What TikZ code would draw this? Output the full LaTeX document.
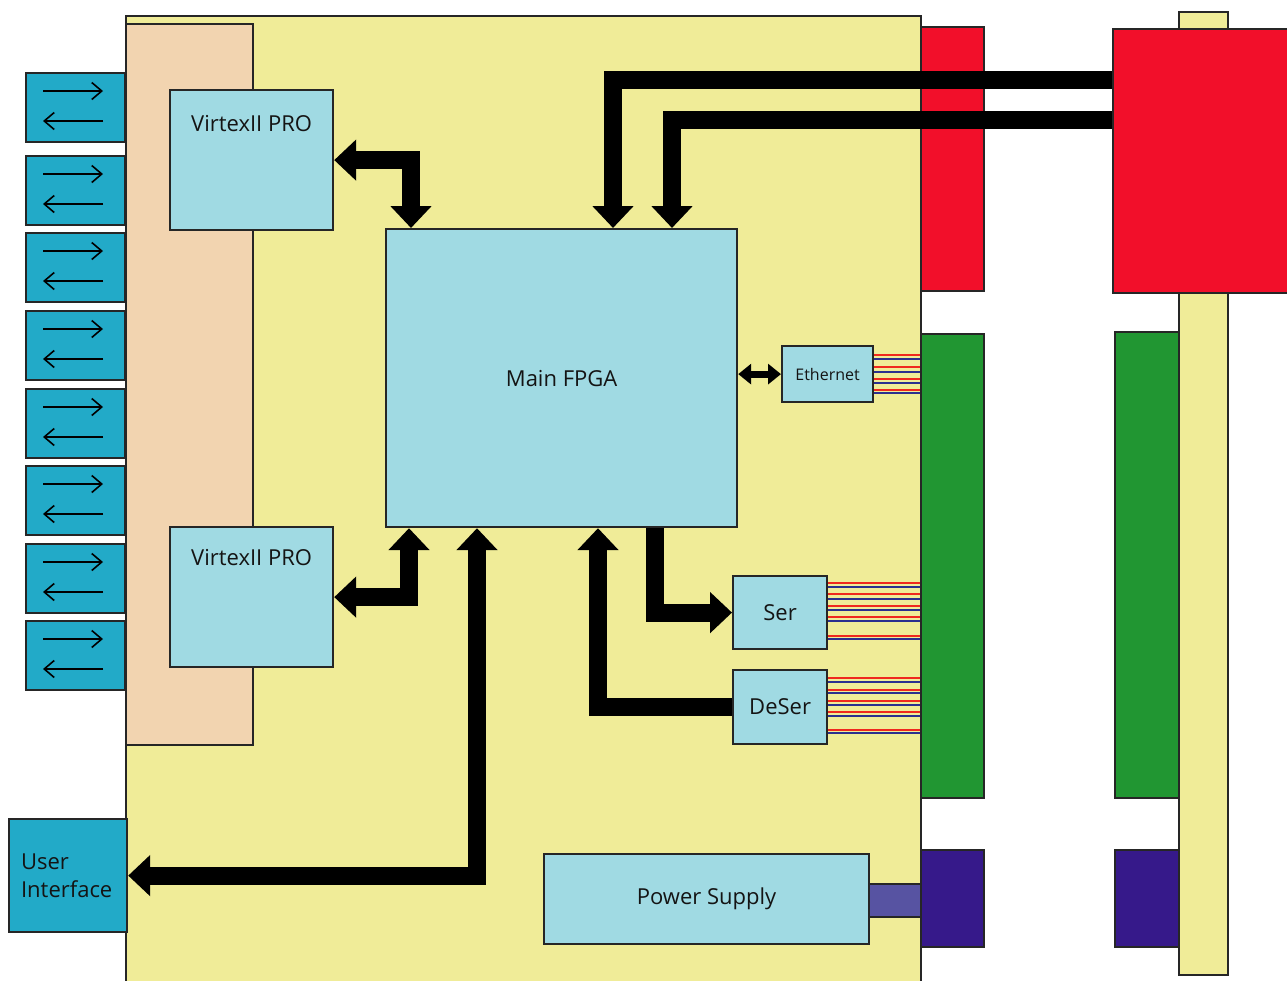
\documentclass[tikz,border=0pt]{standalone}
\usepackage{fontspec}
\setmainfont{Open Sans}
\usetikzlibrary{arrows.meta}
\definecolor{boardy}{RGB}{240,236,152}
\definecolor{peach}{RGB}{242,212,176}
\definecolor{lblue}{RGB}{160,218,227}
\definecolor{teal}{RGB}{34,170,200}
\definecolor{cred}{RGB}{242,15,42}
\definecolor{cgreen}{RGB}{33,150,50}
\definecolor{cpurp}{RGB}{54,25,138}
\definecolor{lpurp}{RGB}{87,83,162}
\definecolor{wred}{RGB}{240,40,30}
\definecolor{wblue}{RGB}{43,47,143}
\definecolor{txt}{RGB}{20,20,20}
\begin{document}
\begin{tikzpicture}[x=1pt,y=-1pt,
  box/.style={draw=black!85, line width=2.2pt, inner sep=0pt, anchor=north west},
  lbl/.style={font=\fontsize{22}{28}\selectfont, text=txt, inner sep=0pt},
  bigarrow/.style={line width=18pt, line join=miter, line cap=butt, black, >={Triangle[width=40pt,length=22pt]}},
  smallarrow/.style={line width=7pt, line cap=butt, black, >={Triangle[width=20pt,length=13pt]}},
  thinarrow/.style={line width=1.6pt, black, ->, >={Straight Barb[length=10pt,width=17pt]}},
  wirer/.style={wred, line width=2.2pt},
  wireb/.style={wblue, line width=1.8pt}]
\clip (0,0) rectangle (1287,980);
\fill[white] (0,0) rectangle (1287,980);
% board
\node[box, fill=boardy, minimum width=795pt, minimum height=990pt] (board) at (125,15) {};
\node[box, fill=peach, minimum width=127pt, minimum height=721pt] (peach) at (125,23) {};
% left connectors
\foreach \i/\t in {1/72,2/155,3/232,4/310,5/388,6/465,7/543,8/620} {
  \node[box, fill=teal, minimum width=99pt, minimum height=69pt] (c\i) at (25,\t) {};
  \draw[thinarrow] ([xshift=18pt,yshift=-19pt]c\i.north west) -- ([xshift=78pt,yshift=-19pt]c\i.north west);
  \draw[thinarrow] ([xshift=78pt,yshift=-49pt]c\i.north west) -- ([xshift=18pt,yshift=-49pt]c\i.north west);
}
% wires
\foreach \r/\b in {355/359,367/372,379/383,390/393}
  {\draw[wirer] (872,\r) -- (board.east |- 0,\r); \draw[wireb] (872,\b) -- (board.east |- 0,\b);}
\foreach \r/\b in {583/587,594/599,606/610,617/621,636/639,678/682,690/693,701/705,712/716,730/733}
  {\draw[wirer] (826,\r) -- (board.east |- 0,\r); \draw[wireb] (826,\b) -- (board.east |- 0,\b);}
% blocks
\node[box, fill=lblue, minimum width=163pt, minimum height=140pt] (vt) at (169,89) {};
\node[lbl] (vtl) at ([yshift=-35pt]vt.north) {VirtexII PRO};
\node[box, fill=lblue, minimum width=163pt, minimum height=140pt] (vb) at (169,526) {};
\node[lbl] (vbl) at ([yshift=-32pt]vb.north) {VirtexII PRO};
\node[box, fill=lblue, minimum width=351pt, minimum height=298pt, lbl] (fpga) at (385,228) {Main FPGA};
\node[box, fill=lblue, minimum width=91pt, minimum height=56pt, lbl, font=\fontsize{16}{18}\selectfont] (eth) at (781,345) {Ethernet};
\node[box, fill=lblue, minimum width=94pt, minimum height=73pt, lbl] (ser) at (732,575) {Ser};
\node[box, fill=lblue, minimum width=94pt, minimum height=74pt, lbl] (deser) at (732,669) {DeSer};
\node[box, fill=lpurp, minimum width=52pt, minimum height=33pt] (pconn) at (868,883) {};
\node[box, fill=lblue, minimum width=325pt, minimum height=90pt, lbl] (ps) at (543,853) {Power Supply};
\node[box, fill=teal, lbl, text width=94pt, inner xsep=12pt, minimum height=113pt, align=left] (ui) at (8,818) {User\\Interface};
% left side edge connectors
\node[box, fill=cred, minimum width=63pt, minimum height=264pt] (lred) at (920,26) {};
\node[box, fill=cgreen, minimum width=63pt, minimum height=464pt] (lgreen) at (920,333) {};
\node[box, fill=cpurp, minimum width=63pt, minimum height=97pt] (lpurple) at (920,849) {};
% right card
\node[box, fill=boardy, minimum width=49pt, minimum height=963pt] (ybar) at (1178,11) {};
\node[box, fill=cgreen, minimum width=64pt, minimum height=466pt] (rgreen) at (1114,331) {};
\node[box, fill=cpurp, minimum width=64pt, minimum height=97pt] (rpurple) at (1114,849) {};
\node[box, fill=cred, minimum width=175pt, minimum height=264pt] (rred) at (1112,28) {};
% arrows
\draw[bigarrow,<->] (vt.east) -| ([xshift=26pt]fpga.north west);
\draw[bigarrow,<->] (vb.east) -| ([xshift=24pt]fpga.south west);
\draw[bigarrow,<->] (ui.east) -| ([xshift=92pt]fpga.south west);
\draw[bigarrow,->] ([xshift=270pt]fpga.south west) |- (ser.west);
\draw[bigarrow,->] (deser.west) -| ([xshift=213pt]fpga.south west);
\draw[smallarrow,<->] (fpga.east |- eth.west) -- (eth.west);
\draw[bigarrow,->] ([yshift=-52pt]rred.north west) -| ([xshift=228pt]fpga.north west);
\draw[bigarrow,->] ([yshift=-92pt]rred.north west) -| ([xshift=287pt]fpga.north west);
\end{tikzpicture}
\end{document}
